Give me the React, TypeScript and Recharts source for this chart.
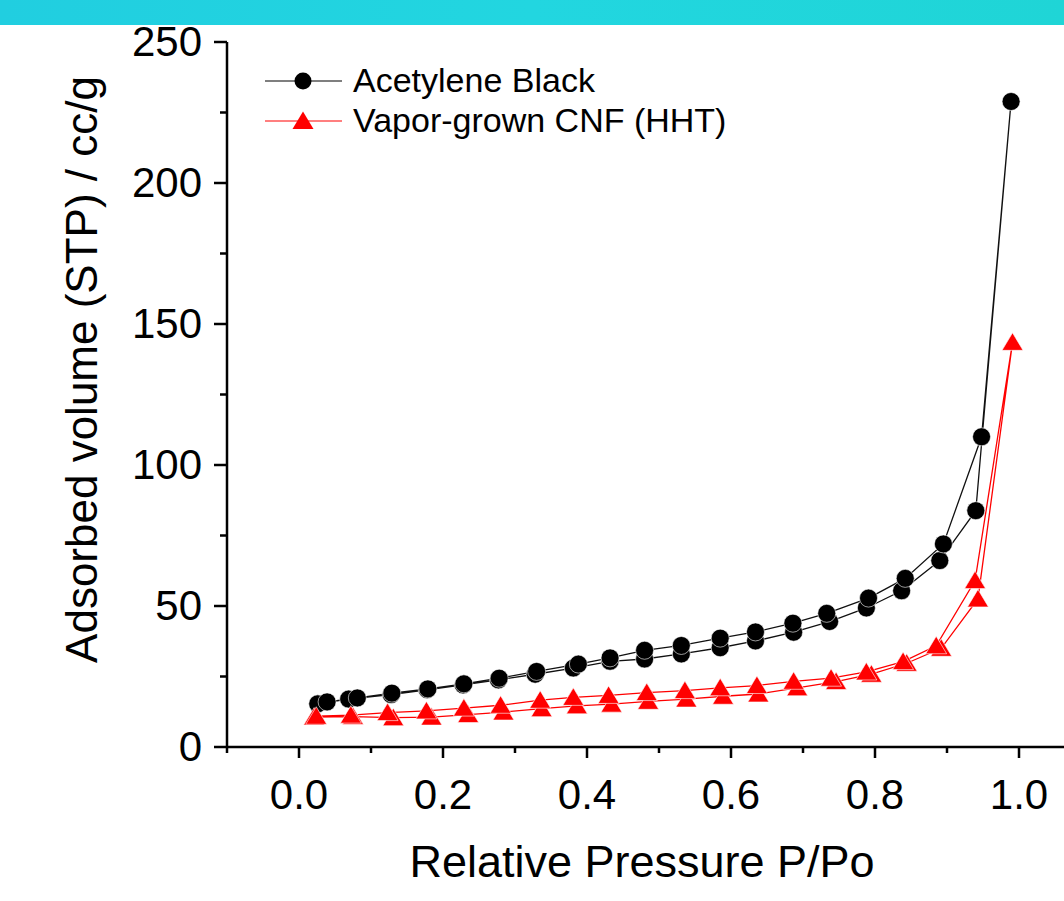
import React from 'react';
import { LineChart, Line, XAxis, YAxis } from 'recharts';

// Acetylene Black isotherm (adsorption ascending, then desorption descending)
const abX = [0.026, 0.069, 0.128, 0.178, 0.228, 0.277, 0.328, 0.381, 0.432, 0.480, 0.531, 0.585, 0.634, 0.687, 0.737, 0.788, 0.837, 0.890, 0.940, 0.989,
  0.948, 0.895, 0.842, 0.791, 0.733, 0.686, 0.634, 0.585, 0.531, 0.480, 0.432, 0.388, 0.330, 0.278, 0.229, 0.179, 0.129, 0.081, 0.039];
const abY = [15.3, 17.0, 18.6, 20.3, 22.0, 23.8, 25.8, 28.0, 30.4, 31.2, 33.0, 35.2, 37.6, 40.7, 44.5, 49.3, 55.4, 66.1, 83.8, 228.9,
  110.0, 72.0, 59.8, 52.8, 47.4, 43.9, 40.8, 38.6, 36.0, 34.3, 31.6, 29.4, 26.8, 24.4, 22.4, 20.6, 19.1, 17.4, 16.0];

// Vapor-grown CNF (HHT) isotherm
const cnfX = [0.021, 0.075, 0.131, 0.184, 0.235, 0.284, 0.337, 0.386, 0.434, 0.485, 0.538, 0.589, 0.638, 0.692, 0.746, 0.795, 0.844, 0.892, 0.943, 0.991,
  0.939, 0.885, 0.839, 0.788, 0.739, 0.687, 0.636, 0.585, 0.536, 0.483, 0.430, 0.381, 0.335, 0.280, 0.229, 0.177, 0.123, 0.072, 0.024];
const cnfY = [10.6, 10.8, 10.4, 10.6, 11.5, 12.4, 13.6, 14.6, 15.2, 16.2, 17.0, 18.0, 18.8, 21.0, 23.2, 25.8, 29.7, 35.0, 52.5, 143.5,
  59.0, 35.9, 30.3, 26.6, 24.4, 23.3, 21.8, 21.0, 20.0, 19.3, 18.3, 17.6, 16.6, 14.8, 13.8, 12.8, 12.2, 11.3, 10.9];

const xTicks = [-0.1, 0.0, 0.1, 0.2, 0.3, 0.4, 0.5, 0.6, 0.7, 0.8, 0.9, 1.0, 1.1];
const yTicks = [0, 25, 50, 75, 100, 125, 150, 175, 200, 225, 250];
const seriesNames = ['Acetylene Black', 'Vapor-grown CNF (HHT)'];
const xTitle = 'Relative Pressure P/Po';
const yTitle = 'Adsorbed volume (STP) / cc/g';

const abData = abX.map((x, i) => ({ x, y: abY[i] }));
const cnfData = cnfX.map((x, i) => ({ x, y: cnfY[i] }));

const FONT = '"Liberation Sans", Arial, sans-serif';
const TICK = 13;

const XTick = (props: any) => {
  const { x, y, payload } = props;
  const v = payload.value as number;
  const major = Math.round(v * 10) % 2 === 0;
  const top = y - TICK;
  return (
    <g>
      <line x1={x} x2={x} y1={top} y2={top + (major ? 11 : 6)} stroke="#000" strokeWidth={2.5} />
      {major && (
        <text x={x} y={top + 62} textAnchor="middle" fontSize={42} fontFamily={FONT} fill="#000">
          {v.toFixed(1)}
        </text>
      )}
    </g>
  );
};

const YTick = (props: any) => {
  const { x, y, payload } = props;
  const v = payload.value as number;
  const major = v % 50 === 0;
  const axisX = x + TICK;
  return (
    <g>
      <line x1={axisX} x2={axisX - (major ? 13 : 7)} y1={y} y2={y} stroke="#000" strokeWidth={2.5} />
      {major && (
        <text x={axisX - 25} y={y + 14} textAnchor="end" fontSize={42} fontFamily={FONT} fill="#000">
          {v}
        </text>
      )}
    </g>
  );
};

const XTitle = (props: any) => {
  const vb = props.viewBox || { x: 227, y: 747, width: 864, height: 154 };
  return (
    <text x={vb.x + vb.width / 2 - 17} y={vb.y + 130} textAnchor="middle" fontSize={45} fontFamily={FONT} fill="#000">
      {xTitle}
    </text>
  );
};

const YTitle = (props: any) => {
  const vb = props.viewBox || { x: 0, y: 42, width: 227, height: 705 };
  const tx = vb.x + 97;
  const ty = vb.y + vb.height / 2 - 25;
  return (
    <text x={tx} y={ty} transform={`rotate(-90 ${tx} ${ty})`} textAnchor="middle" fontSize={44} fontFamily={FONT} fill="#000">
      {yTitle}
    </text>
  );
};

const Triangle = (props: any) => {
  const { cx, cy, index } = props;
  if (cx == null || cy == null) return <g key={`t-${index}`} />;
  return (
    <polygon
      key={`t-${index}`}
      points={`${cx},${cy - 9.5} ${cx - 10.5},${cy + 8} ${cx + 10.5},${cy + 8}`}
      fill="#ff0000"
      stroke="#fff"
      strokeWidth={0.6}
    />
  );
};

const LegendOverlay = () => (
  <svg width={1064} height={901} style={{ position: 'absolute', left: 0, top: 0, pointerEvents: 'none' }}>
    <line x1={265} x2={342} y1={81} y2={81} stroke="#000" strokeWidth={1.2} />
    <circle cx={303} cy={81} r={8.5} fill="#000" />
    <text x={353} y={92} fontSize={34} fontFamily={FONT} fill="#000">{seriesNames[0]}</text>
    <line x1={265} x2={342} y1={121} y2={121} stroke="#ff0000" strokeWidth={1.2} />
    <polygon points={`303,${121 - 9.5} ${303 - 10.5},${121 + 8} ${303 + 10.5},${121 + 8}`} fill="#ff0000" />
    <text x={353} y={132} fontSize={34} fontFamily={FONT} fill="#000">{seriesNames[1]}</text>
  </svg>
);

export default function App() {
  return (
    <div style={{ position: 'absolute', left: 0, top: 0, width: 1064, height: 901, overflow: 'hidden', background: '#fff' }}>
      <LineChart width={1120} height={901} margin={{ top: 42, right: 29, bottom: 0, left: 0 }}>
        <XAxis
          dataKey="x"
          type="number"
          domain={[-0.1, 1.1]}
          ticks={xTicks}
          allowDataOverflow
          interval={0}
          height={154}
          tickSize={TICK}
          tickMargin={0}
          tickLine={false}
          tick={<XTick />}
          axisLine={{ stroke: '#000', strokeWidth: 2.5 }}
          label={<XTitle />}
        />
        <YAxis
          type="number"
          domain={[0, 250]}
          ticks={yTicks}
          interval={0}
          width={227}
          tickSize={TICK}
          tickMargin={0}
          tickLine={false}
          tick={<YTick />}
          axisLine={{ stroke: '#000', strokeWidth: 2.5 }}
          label={<YTitle />}
        />
        <Line
          data={abData}
          dataKey="y"
          name={seriesNames[0]}
          type="linear"
          stroke="#111"
          strokeWidth={1.3}
          dot={{ r: 9, fill: '#000', stroke: '#fff', strokeWidth: 0.6 }}
          isAnimationActive={false}
        />
        <Line
          data={cnfData}
          dataKey="y"
          name={seriesNames[1]}
          type="linear"
          stroke="#ff0000"
          strokeWidth={1.3}
          dot={(p: any) => <Triangle key={`tri-${p.index}`} {...p} />}
          isAnimationActive={false}
        />
      </LineChart>
      <LegendOverlay />
      <div
        style={{
          position: 'absolute',
          left: 0,
          top: 0,
          width: 1064,
          height: 25,
          background: 'linear-gradient(90deg, #21cee0 0%, #22d6e0 50%, #1fd5d6 100%)',
        }}
      />
    </div>
  );
}
